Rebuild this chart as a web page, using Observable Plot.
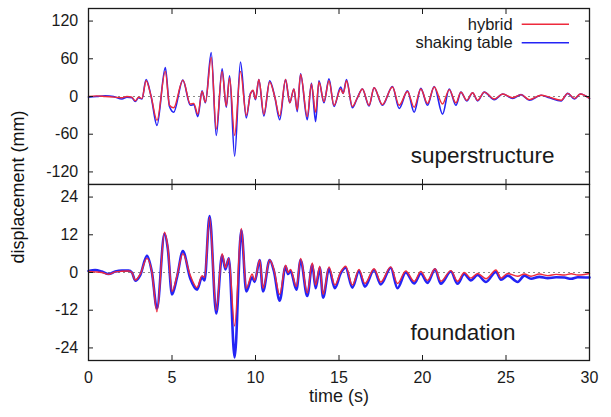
<!DOCTYPE html>
<html><head><meta charset="utf-8">
<script src="https://cdn.jsdelivr.net/npm/d3@7"></script>
<script src="https://cdn.jsdelivr.net/npm/@observablehq/plot@0.6"></script>
<style>
body{margin:0;background:#fff;font-family:"Liberation Sans",Arial,Helvetica,sans-serif;}
#wrap{position:relative;width:611px;height:417px;overflow:hidden;background:#fff;}
#wrap svg{position:absolute;left:0;}
#ylab{position:absolute;left:17.5px;top:186.5px;transform:translate(-50%,-50%) rotate(-90deg);font-size:18px;white-space:nowrap;line-height:1;color:#111;}
</style></head><body><div id="wrap"><div id="ylab">displacement (mm)</div></div>
<script>
// ---- data ----
const xTicks = [0, 5, 10, 15, 20, 25, 30];
const yTicksTop = [-120, -60, 0, 60, 120];
const yTicksBottom = [-24, -12, 0, 12, 24];
const seriesNames = ["hybrid", "shaking table"];
const panelNames = ["superstructure", "foundation"];

// superstructure
const tTop = [0,0.5,1.0,1.5,2.0,2.3,2.6,2.8,3.0,3.2,3.45,3.75,4.1,4.6,4.85,5.1,5.65,6.1,6.3,6.55,6.8,7.0,7.35,7.65,8.0,8.25,8.45,8.75,9.1,9.45,9.7,9.85,10.0,10.2,10.5,10.85,11.15,11.45,11.8,12.05,12.3,12.5,12.7,13.1,13.35,13.6,13.8,14.1,14.4,14.7,15.1,15.25,15.45,15.8,16.1,16.4,16.8,17.1,17.6,18.2,18.6,19.1,19.5,19.9,20.3,20.7,21.2,21.6,22.0,22.3,22.65,23.0,23.3,23.7,24.3,24.8,25.4,25.9,26.4,27.1,27.6,28.3,28.7,29.1,29.45,30];
const hybridTop = [0,1,0,-1,-2,0,-1,-7,-1,-3,25,0,-38,40,-14,-18,26,-12,-11,-28,8,-9,62,-52,40,-15,30,-62,40,-30,4,10,-4,27,-28,23,0,-31,27,-10,12,-21,35,-32,20,-25,23,-8,25,-14,12,5,25,-16,-2,12,-14,14,-13,15,-14,8,-17,12,-11,15,-12,11,-10,7,-6,6,-6,7,-4,4,-2,3,-5,2,-1,-6,5,-3,4,-3];
const tableTop = [-1,0,1,0,-4,-1,-2,-8,-2,-4,27,0,-46,46,-16,-25,26,-14,-13,-32,9,-10,70,-62,44,-17,33,-95,55,-34,5,9,-5,27,-31,25,0,-37,27,-10,12,-24,36,-37,21,-40,25,-10,28,-16,15,5,27,-18,-2,12,-15,14,-14,16,-19,9,-25,13,-14,16,-28,12,-14,7,-7,6,-7,7,-5,4,-3,3,-6,2,-2,-7,5,-4,4,-3];

// foundation
const tBottom = [0,0.4,0.8,1.2,1.6,2.0,2.4,2.6,2.8,3.1,3.5,3.8,4.1,4.55,4.75,5.0,5.3,5.65,6.1,6.5,6.8,6.95,7.25,7.65,8.0,8.2,8.4,8.75,9.15,9.45,9.8,9.95,10.25,10.45,10.85,11.1,11.45,11.8,11.95,12.1,12.45,12.7,13.1,13.4,13.6,13.85,14.05,14.4,14.75,15.1,15.4,15.8,16.2,16.55,17.1,17.5,18.1,18.5,19.0,19.5,19.9,20.3,20.75,21.1,21.7,22.1,22.5,22.9,23.3,23.8,24.4,24.7,25.1,25.7,26.1,26.5,27.0,27.5,28.0,28.5,28.9,29.3,30];
const hybridBottom = [0.3,0.2,0,-0.6,0.2,0.4,0.5,0,-2.4,-0.5,4.5,0,-12.5,12.8,8,-6,-1,6,-1,-4.8,-1,-1.5,17.5,-12,6,1.5,4.5,-17,14,-5,-0.5,-2.5,4,-5,4,1,-7,2.3,0,1,-4.5,4.5,-6.5,3,-4,2,-7,1.8,-4,0.2,2,-4,1,-3.5,1.2,-3,1.8,-3.5,0.5,-2.8,0.3,-2.5,1.2,-2.8,0.6,-2.8,0,-1.8,-0.3,-2,0.8,-1.8,-0.3,-1.2,-0.5,-1.2,-0.5,-1,-0.6,-0.8,-0.4,-0.8,-0.3];
const tableBottom = [0.5,0.8,0.3,-0.5,0.3,0.6,0.6,0,-2.6,-0.8,5.3,0,-11.5,12.3,7.5,-7,-1.5,6.8,-2,-5.5,-1.5,-2.5,18,-13,5.5,1,4.5,-27,13.5,-6,-1.5,-3,4,-6,4,0.5,-9,2,-0.5,0.5,-5.5,4,-7.5,2.5,-5,1.5,-8,1.2,-5,-0.3,1.5,-4.8,0.5,-4.5,0.8,-3.8,1.5,-5,0,-3.5,-0.3,-3.3,1,-3.6,0.3,-3.6,-0.5,-2.5,-0.8,-3,0.2,-2.3,-1,-3,-1,-2,-1.4,-1.8,-1.5,-1.6,-2,-1.5,-1.6];

// ---- build rows ----
const topRows = tTop.map((t, i) => ({t, hybrid: hybridTop[i], table: tableTop[i]}));
const bottomRows = tBottom.map((t, i) => ({t, hybrid: hybridBottom[i], table: tableBottom[i]}));

const RED = "#ee2a3c", BLUE = "#2424f5", INK = "#1a1a1a";
const FONT = "Liberation Sans, Arial, Helvetica, sans-serif";
const W = 611, ML = 88, MR = 22;
const fmt = d => String(d);
const blank = () => "";

const topPlot = Plot.plot({
  width: W, height: 185, marginLeft: ML, marginRight: MR, marginTop: 8, marginBottom: 1,
  style: {fontFamily: FONT, fontSize: "16px", background: "transparent", color: INK},
  x: {domain: [0, 30]},
  y: {domain: [-140, 140]},
  marks: [
    Plot.ruleY([0], {stroke: "#8a8a8a", strokeDasharray: "2,3", strokeWidth: 1}),
    Plot.line(topRows, {x: "t", y: "table", stroke: BLUE, strokeWidth: 1.6, curve: "monotone-x"}),
    Plot.line(topRows, {x: "t", y: "hybrid", stroke: RED, strokeWidth: 1.4, curve: "monotone-x"}),
    Plot.frame({stroke: INK, strokeWidth: 1.3}),
    Plot.axisY({anchor: "left", ticks: yTicksTop, tickSize: -5, tickPadding: 15.3, tickFormat: fmt, label: null, fontSize: 16, stroke: INK}),
    Plot.axisY({anchor: "right", ticks: yTicksTop, tickSize: -5, tickFormat: blank, label: null, stroke: INK}),
    Plot.axisX({anchor: "top", ticks: xTicks, tickSize: -5, tickFormat: blank, label: null, stroke: INK}),
    Plot.axisX({anchor: "bottom", ticks: xTicks, tickSize: -5, tickFormat: blank, label: null, stroke: INK}),
    Plot.text([panelNames[0]], {frameAnchor: "bottom-right", dx: -35, dy: -21.7, textAnchor: "end", fontSize: 22.5, fill: INK})
  ]
});
topPlot.style.top = "0px";

const bottomPlot = Plot.plot({
  width: W, height: 234, marginLeft: ML, marginRight: MR, marginTop: 1, marginBottom: 57,
  style: {fontFamily: FONT, fontSize: "16px", background: "transparent", color: INK},
  x: {domain: [0, 30]},
  y: {domain: [-28, 28]},
  marks: [
    Plot.ruleY([0], {stroke: "#8a8a8a", strokeDasharray: "2,3", strokeWidth: 1}),
    Plot.line(bottomRows, {x: "t", y: "table", stroke: BLUE, strokeWidth: 2.6, curve: "monotone-x"}),
    Plot.line(bottomRows, {x: "t", y: "hybrid", stroke: RED, strokeWidth: 1.4, curve: "monotone-x"}),
    Plot.frame({stroke: INK, strokeWidth: 1.3}),
    Plot.axisY({anchor: "left", ticks: yTicksBottom, tickSize: -5, tickPadding: 15.3, tickFormat: fmt, label: null, fontSize: 16, stroke: INK}),
    Plot.axisY({anchor: "right", ticks: yTicksBottom, tickSize: -5, tickFormat: blank, label: null, stroke: INK}),
    Plot.axisX({anchor: "top", ticks: xTicks, tickSize: -5, tickFormat: blank, label: null, stroke: INK}),
    Plot.axisX({anchor: "bottom", ticks: xTicks, tickSize: -5, tickPadding: 16, tickFormat: fmt, label: null, fontSize: 16, stroke: INK}),
    Plot.text([panelNames[1]], {frameAnchor: "bottom-right", dx: -74, dy: -20.3, textAnchor: "end", fontSize: 22.5, fill: INK}),
    Plot.text(["time (s)"], {frameAnchor: "bottom", dy: 41.7, fontSize: 18, fill: INK})
  ]
});
bottomPlot.style.top = "183px";

const wrap = document.getElementById("wrap");
wrap.appendChild(topPlot);
wrap.appendChild(bottomPlot);

// legend (top-right inside the upper panel)
const leg = d3.select(topPlot).append("g").attr("font-family", FONT).attr("font-size", 16.5).attr("fill", INK);
[RED, BLUE].forEach((c, i) => {
  const y = 24.3 + i * 18.4;
  leg.append("text").attr("x", 512.7).attr("y", y).attr("dy", "0.35em").attr("text-anchor", "end").text(seriesNames[i]);
  leg.append("line").attr("x1", 521.7).attr("x2", 569).attr("y1", y).attr("y2", y).attr("stroke", c).attr("stroke-width", 1.4);
});
</script></body></html>
